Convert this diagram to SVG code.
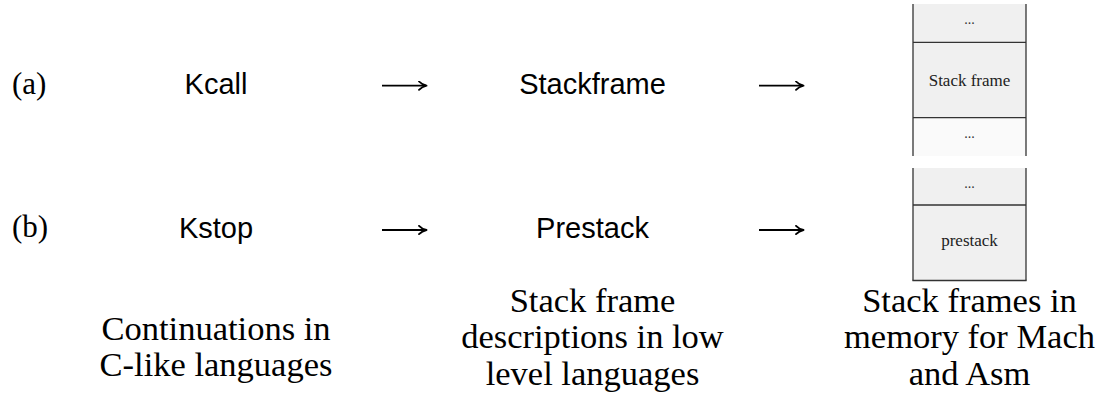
<svg xmlns="http://www.w3.org/2000/svg" width="1101" height="406" viewBox="0 0 1101 406">
  <style>
    .lbl { font-family: "Liberation Serif", "DejaVu Serif", serif; font-size: 31px; fill: #000; }
    .node { font-family: "Liberation Sans", "DejaVu Sans", sans-serif; font-size: 29px; fill: #000; text-anchor: middle; }
    .desc { font-family: "Liberation Serif", "DejaVu Serif", serif; font-size: 34.5px; fill: #000; text-anchor: middle; }
    .small { font-family: "Liberation Serif", "DejaVu Serif", serif; font-size: 17px; fill: #222; text-anchor: middle; }
    .dots { font-family: "Liberation Serif", "DejaVu Serif", serif; font-size: 14px; fill: #333; text-anchor: middle; }
    .cell { fill: #f0f0f0; stroke: none; }
    .cell2 { fill: #fafafa; stroke: none; }
    .edge { stroke: #333; stroke-width: 1.3; fill: none; }
    .arrow { stroke: #000; stroke-width: 1.8; fill: none; }
    .head { stroke: #000; stroke-width: 1.8; fill: none; stroke-linecap: round; stroke-linejoin: round; }
  </style>
  <defs>
    <marker id="ah" markerWidth="10" markerHeight="10" refX="8" refY="5" orient="auto" markerUnits="userSpaceOnUse">
      <path class="head" d="M1,0.8 Q4,4 8.5,5 Q4,6 1,9.2"/>
    </marker>
  </defs>

  <g id="row-labels">
    <text class="lbl" x="12" y="94">(a)</text>
    <text class="lbl" x="12" y="237">(b)</text>
  </g>

  <g id="kcall"><text class="node" x="216" y="94.3">Kcall</text></g>
  <g id="stackframe"><text class="node" x="592.5" y="94.3">Stackframe</text></g>
  <g id="kstop"><text class="node" x="216" y="237.5">Kstop</text></g>
  <g id="prestack"><text class="node" x="592.5" y="237.5">Prestack</text></g>

  <g id="stack-a">
    <rect class="cell" x="913" y="4" width="113" height="38"/>
    <rect class="cell" x="913" y="42" width="113" height="76"/>
    <rect class="cell2" x="913" y="118" width="113" height="38"/>
    <line class="edge" x1="913" y1="4" x2="913" y2="156"/>
    <line class="edge" x1="1026" y1="4" x2="1026" y2="156"/>
    <line class="edge" x1="913" y1="42.3" x2="1026" y2="42.3"/>
    <line class="edge" x1="913" y1="117.7" x2="1026" y2="117.7"/>
    <text class="dots" x="969.5" y="24">...</text>
    <text class="small" x="969.5" y="86">Stack frame</text>
    <text class="dots" x="969.5" y="138">...</text>
  </g>

  <g id="stack-b">
    <rect class="cell" x="913" y="168" width="113" height="112.5"/>
    <line class="edge" x1="913" y1="168" x2="913" y2="280.5"/>
    <line class="edge" x1="1026" y1="168" x2="1026" y2="280.5"/>
    <line class="edge" x1="913" y1="205" x2="1026" y2="205"/>
    <line class="edge" x1="912.4" y1="280.5" x2="1026.6" y2="280.5"/>
    <text class="dots" x="969.5" y="188">...</text>
    <text class="small" x="969.5" y="246">prestack</text>
  </g>

  <g id="connectors">
    <line class="arrow" x1="382" y1="85.7" x2="426" y2="85.7" marker-end="url(#ah)"/>
    <line class="arrow" x1="759" y1="85.7" x2="803" y2="85.7" marker-end="url(#ah)"/>
    <line class="arrow" x1="382" y1="230" x2="426" y2="230" marker-end="url(#ah)"/>
    <line class="arrow" x1="759" y1="230" x2="803" y2="230" marker-end="url(#ah)"/>
  </g>

  <g id="descriptions">
    <text class="desc" x="216" y="339.5">Continuations in</text>
    <text class="desc" x="216" y="376">C-like languages</text>
    <text class="desc" x="592.5" y="311.5">Stack frame</text>
    <text class="desc" x="592.5" y="348.2">descriptions in low</text>
    <text class="desc" x="592.5" y="385">level languages</text>
    <text class="desc" x="969.5" y="311.5">Stack frames in</text>
    <text class="desc" x="969.5" y="348.2">memory for Mach</text>
    <text class="desc" x="969.5" y="385">and Asm</text>
  </g>
</svg>
